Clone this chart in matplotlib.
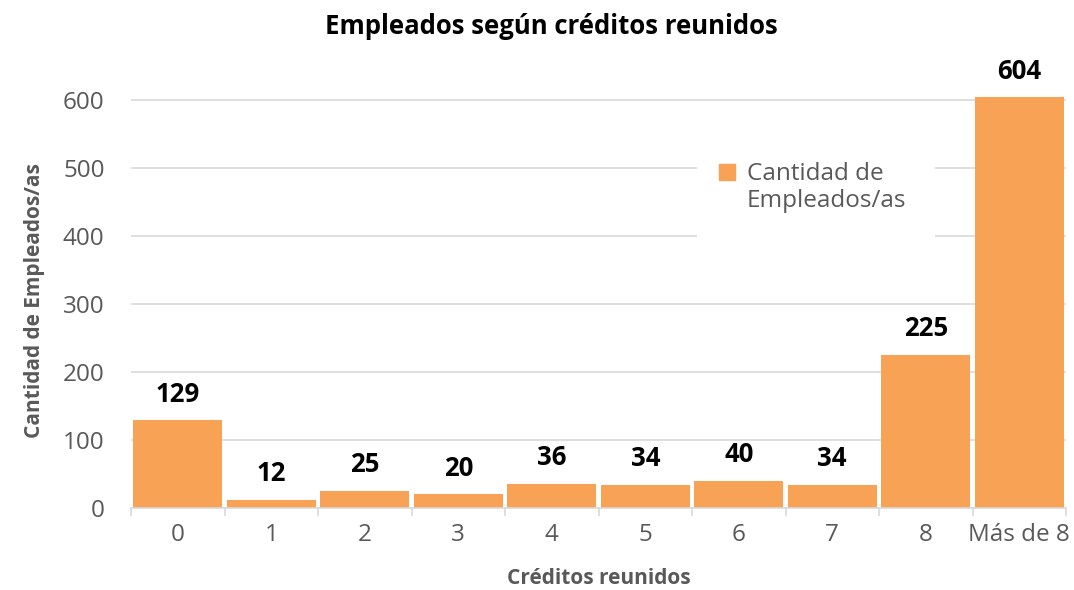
import numpy as np
import matplotlib
matplotlib.use("Agg")
from matplotlib import pyplot as plt
from matplotlib.lines import Line2D
from matplotlib.patches import Rectangle
from matplotlib.legend_handler import HandlerLine2D

categories = ["0", "1", "2", "3", "4", "5", "6", "7", "8", "Más de 8"]
employees = [129, 12, 25, 20, 36, 34, 40, 34, 225, 604]
y_ticks = [0, 100, 200, 300, 400, 500, 600]

bar_color = "#F7A254"
text_gray = "#595959"
grid_gray = "#D9D9D9"

plt.rcParams["font.family"] = ["Open Sans", "DejaVu Sans"]


class TopLineHandler(HandlerLine2D):
  # put the legend square next to the first line of a two-line label, like Excel does
  def create_artists(self, legend, orig_handle, xdescent, ydescent, width, height, fontsize, trans):
    arts = super().create_artists(legend, orig_handle, xdescent, ydescent, width, height, fontsize, trans)
    for a in arts:
      a.set_ydata([y + 0.68 * fontsize for y in a.get_ydata()])
    return arts


fig = plt.figure(figsize=(10.74, 5.9), dpi=100)
# 0 sits at y=508 px and 600 at y=100 px
px_per_unit = (508 - 100) / 600
top_val = 610
ax = fig.add_axes([131 / 1074, 1 - 508 / 590, (1066 - 131) / 1074, top_val * px_per_unit / 590])

x = np.arange(len(categories))
ax.bar(x, employees, width=0.955, color=bar_color, zorder=2)

for xi, v in zip(x, employees):
  ax.annotate(str(v), (xi, v), xytext=(0, 13.5), textcoords="offset points",
              ha="center", va="baseline", fontsize=18.5, fontweight="bold", color="black")

ax.set_xlim(-0.5, len(categories) - 0.5)
ax.set_ylim(0, top_val)
ax.set_yticks(y_ticks)
ax.set_xticks(x)
ax.set_xticklabels(categories)
ax.set_xticks(np.arange(-0.5, len(categories), 1.0), minor=True)
ax.tick_params(axis="x", which="major", length=0, pad=11, labelsize=17.5, labelcolor=text_gray)
ax.tick_params(axis="x", which="minor", length=6, width=1.2, color=grid_gray)
ax.tick_params(axis="y", length=0, pad=19, labelsize=17.5, labelcolor=text_gray)

ax.grid(axis="y", color=grid_gray, linewidth=1.2, zorder=0)
ax.set_axisbelow(True)
for s in ["top", "right", "left"]:
  ax.spines[s].set_visible(False)
ax.spines["bottom"].set_color(grid_gray)
ax.spines["bottom"].set_linewidth(1.2)

ax.set_xlabel("Créditos reunidos", fontsize=15, fontweight="bold", color=text_gray, labelpad=15)
ax.set_ylabel("Cantidad de Empleados/as", fontsize=15, fontweight="bold", color=text_gray, labelpad=13)
fig.text(551 / 1074, 1 - 26 / 590, "Empleados según créditos reunidos", ha="center", va="center",
         fontsize=18.5, fontweight="bold", color="black")

# white legend area that hides the gridlines behind it
ax.add_patch(Rectangle((697 / 1074, 1 - 246 / 590), 238 / 1074, 106 / 590,
                       transform=fig.transFigure, facecolor="white", edgecolor="none", zorder=1))

handle = Line2D([], [], marker="s", linestyle="none", markersize=11.5, color=bar_color)
leg = ax.legend([handle], ["Cantidad de\nEmpleados/as"], loc="upper left",
                bbox_to_anchor=(697 / 1074, 1 - 140 / 590), bbox_transform=fig.transFigure,
                frameon=False, fontsize=17.5, handletextpad=0.45, handlelength=0.7,
                labelcolor=text_gray, borderpad=0.9, borderaxespad=0,
                handler_map={Line2D: TopLineHandler()})

fig.savefig("out.png", dpi=100)
